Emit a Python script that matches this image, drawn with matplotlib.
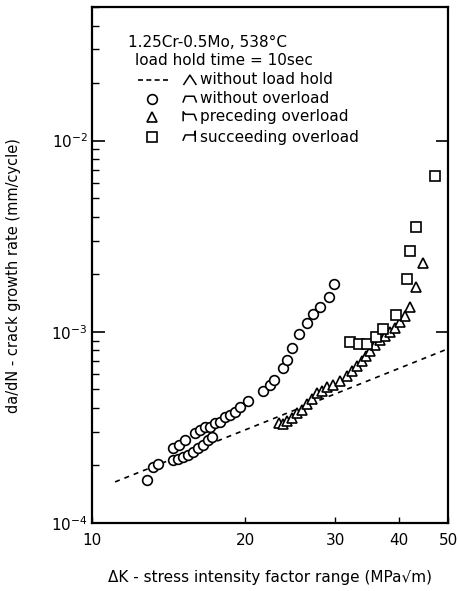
import matplotlib
matplotlib.use("Agg")
import matplotlib.pyplot as plt

# without overload (circles)
dk_circ = [12.82, 13.18, 13.48,
           14.43, 14.76, 15.09, 15.43, 15.78, 16.15, 16.51, 16.89, 17.20,
           14.43, 14.82, 15.23, 15.93, 16.29, 16.66, 17.05, 17.44, 17.83,
           18.24, 18.66, 19.09, 19.52, 20.24, 21.66, 22.36, 22.76, 23.71,
           24.15, 24.70, 25.49, 26.43, 27.16, 28.03, 29.20, 29.86]
rate_circ = [1.675e-4, 1.96e-4, 2.03e-4,
             2.13e-4, 2.15e-4, 2.21e-4, 2.26e-4, 2.34e-4, 2.46e-4, 2.55e-4, 2.71e-4, 2.81e-4,
             2.46e-4, 2.55e-4, 2.71e-4, 2.94e-4, 3.05e-4, 3.16e-4, 3.16e-4, 3.32e-4, 3.36e-4,
             3.57e-4, 3.65e-4, 3.79e-4, 4.02e-4, 4.32e-4, 4.93e-4, 5.30e-4, 5.62e-4, 6.49e-4,
             7.15e-4, 8.25e-4, 9.76e-4, 1.114e-3, 1.241e-3, 1.350e-3, 1.522e-3, 1.778e-3]

# preceding overload (triangles)
dk_tri = [23.29, 23.71, 24.15, 24.70, 25.26, 25.84, 26.43, 27.04, 27.65, 28.29,
          28.93, 29.73, 30.69, 31.67, 32.40, 33.14, 33.89, 34.51, 35.14, 35.94,
          36.76, 37.60, 38.46, 39.34, 40.24, 41.16, 42.10, 43.26, 44.65]
rate_tri = [3.32e-4, 3.28e-4, 3.40e-4, 3.52e-4, 3.74e-4, 3.92e-4, 4.17e-4, 4.43e-4, 4.76e-4, 4.93e-4,
            5.17e-4, 5.30e-4, 5.56e-4, 5.90e-4, 6.27e-4, 6.65e-4, 7.06e-4, 7.50e-4, 7.96e-4, 8.56e-4,
            9.09e-4, 9.53e-4, 1.00e-3, 1.049e-3, 1.128e-3, 1.212e-3, 1.350e-3, 1.716e-3, 2.288e-3]

# succeeding overload (squares)
dk_sq = [32.10, 33.44, 34.67, 36.11, 37.27, 39.52, 41.53, 42.10, 43.26, 47.16]
rate_sq = [8.87e-4, 8.66e-4, 8.66e-4, 9.42e-4, 1.037e-3, 1.226e-3, 1.888e-3, 2.642e-3, 3.524e-3, 6.494e-3]

# without load hold (dashed line)
dk_line = [11.1, 50.0]
rate_line = [1.64e-4, 8.15e-4]

xticks = [10, 20, 30, 40, 50]
yticks = [1e-4, 1e-3, 1e-2]
ytick_labels = ['$10^{-4}$', '$10^{-3}$', '$10^{-2}$']

plt.rcParams['font.family'] = ['DejaVu Sans']

fig = plt.figure(figsize=(4.58, 5.91), dpi=100)
ax = fig.add_axes([0.2009, 0.1151, 0.7773, 0.8731])

mk = dict(linestyle='none', mfc='white', mec='black', mew=1.2, ms=7)
ax.plot(dk_line, rate_line, color='black', lw=1.2, linestyle=(0, (3, 3)))
ax.plot(dk_circ, rate_circ, marker='o', **mk)
ax.plot(dk_tri, rate_tri, marker='^', **mk)
ax.plot(dk_sq, rate_sq, marker='s', **mk)

ax.set_xscale('log')
ax.set_yscale('log')
ax.set_xlim(10, 50)
ax.set_ylim(1e-4, 5e-2)

ax.set_xticks(xticks, labels=[str(v) for v in xticks])
ax.xaxis.set_minor_locator(matplotlib.ticker.NullLocator())
ax.set_yticks(yticks, labels=ytick_labels)
ax.tick_params(axis='x', which='major', direction='in', length=4, width=1,
               labelsize=11, pad=7)
ax.tick_params(axis='y', which='major', direction='in', length=9, width=1.2,
               labelsize=11, pad=3, right=True)
ax.tick_params(axis='y', which='minor', direction='in', length=5, width=1,
               left=True, right=False)
for s in ax.spines.values():
    s.set_linewidth(1.6)

ax.set_xlabel('ΔK - stress intensity factor range (MPa√m)', fontsize=11)
ax.xaxis.set_label_coords(0.5, -0.092)
ax.set_ylabel('da/dN - crack growth rate (mm/cycle)', fontsize=10.5)
ax.yaxis.set_label_coords(-0.20, 0.479)

# caption and legend block
tr = ax.transAxes
ax.text(0.101, 0.932, '1.25Cr-0.5Mo, 538°C', transform=tr, fontsize=11, va='center')
ax.text(0.121, 0.897, 'load hold time = 10sec', transform=tr, fontsize=11, va='center')

rows = [0.859, 0.822, 0.787, 0.748]
names = ['without load hold', 'without overload', 'preceding overload', 'succeeding overload']
for yy, name in zip(rows, names):
    ax.text(0.303, yy, name, transform=tr, fontsize=11, va='center')

ax.plot([0.129, 0.213], [rows[0], rows[0]], transform=tr, color='black', lw=1.2,
        linestyle=(0, (3, 2)))
ax.plot([0.169], [rows[1]], transform=tr, marker='o', **mk)
ax.plot([0.169], [rows[2]], transform=tr, marker='^', **mk)
ax.plot([0.169], [rows[3]], transform=tr, marker='s', **mk)

# load waveform icons
ax.plot([0.258, 0.275, 0.292], [rows[0] - 0.009, rows[0] + 0.009, rows[0] - 0.009],
        transform=tr, color='black', lw=1.1)
ax.plot([0.256, 0.262, 0.287, 0.293],
        [rows[1] - 0.006, rows[1] + 0.005, rows[1] + 0.005, rows[1] - 0.006],
        transform=tr, color='black', lw=1.1)
ax.plot([0.256, 0.256, 0.262, 0.287, 0.293],
        [rows[2] - 0.007, rows[2] + 0.010, rows[2] + 0.005, rows[2] + 0.005, rows[2] - 0.006],
        transform=tr, color='black', lw=1.1)
ax.plot([0.256, 0.262, 0.290, 0.290, 0.290],
        [rows[3] - 0.006, rows[3] + 0.004, rows[3] + 0.004, rows[3] + 0.011, rows[3] - 0.008],
        transform=tr, color='black', lw=1.1)

fig.savefig('out.png', dpi=100)
